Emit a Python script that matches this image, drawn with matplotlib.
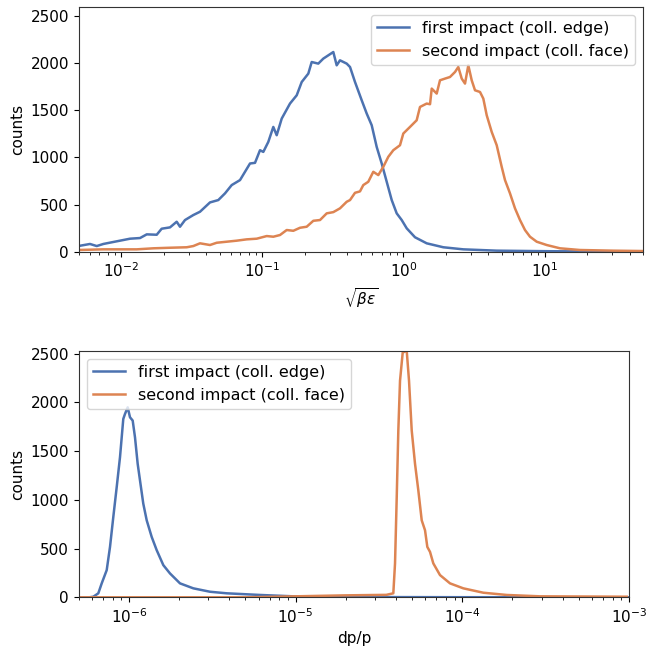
import matplotlib
matplotlib.use("Agg")
import matplotlib.pyplot as plt

# ---------------- data ----------------
labels = ["first impact (coll. edge)", "second impact (coll. face)"]
colors = ["#4C72B0", "#DD8452"]

# top panel: sqrt(beta*eps)
top_first_x = [0.00497, 0.00601, 0.00671, 0.00747, 0.00879, 0.00981, 0.01155, 0.0136,
               0.01517, 0.01785, 0.01936, 0.02217, 0.02473, 0.0261, 0.02832, 0.03243,
               0.03617, 0.04257, 0.04875, 0.05439, 0.06067, 0.06947, 0.08177, 0.08872,
               0.09627, 0.1016, 0.1102, 0.1196, 0.1264, 0.1372, 0.157, 0.1752, 0.1901,
               0.2117, 0.2237, 0.2491, 0.2703, 0.3183, 0.3363, 0.3549, 0.396, 0.418,
               0.4534, 0.5058, 0.5488, 0.5954, 0.6459, 0.701, 0.7606, 0.8252, 0.8951,
               0.9714, 1.054, 1.207, 1.46, 1.915, 2.654, 4.575, 10.9, 24.7, 50.0]
top_first_y = [60, 82, 60, 82, 103, 117, 138, 145, 184, 180, 244, 258, 318, 265, 336, 389,
               424, 523, 548, 619, 707, 760, 936, 943, 1077, 1059, 1165, 1324, 1236, 1413,
               1572, 1660, 1801, 1890, 2013, 1996, 2049, 2119, 1978, 2031, 1996, 1960,
               1801, 1607, 1466, 1342, 1112, 936, 742, 548, 407, 336, 248, 153, 89, 47,
               25, 11, 5, 2, 1]

top_second_x = [0.00497, 0.00747, 0.01288, 0.01689, 0.02217, 0.02911, 0.03243, 0.03617,
                0.04257, 0.0475, 0.05592, 0.06582, 0.07747, 0.09122, 0.1074, 0.1196,
                0.1334, 0.1488, 0.1658, 0.1849, 0.2062, 0.2297, 0.2562, 0.2858, 0.3183,
                0.3549, 0.396, 0.418, 0.4534, 0.4918, 0.5191, 0.563, 0.6111, 0.6632,
                0.7194, 0.7805, 0.8469, 0.9447, 0.997, 1.112, 1.24, 1.309, 1.46, 1.542,
                1.585, 1.719, 1.814, 1.968, 2.135, 2.317, 2.445, 2.585, 2.728, 2.879,
                3.043, 3.211, 3.484, 3.677, 3.887, 4.217, 4.575, 4.963, 5.238, 5.683,
                6.166, 6.69, 7.258, 7.875, 8.787, 10.34, 12.85, 17.8, 30.5, 50.0]
top_second_y = [18, 25, 25, 36, 42, 47, 60, 89, 71, 95, 106, 117, 131, 138, 166, 159, 177,
                230, 222, 254, 265, 328, 336, 407, 420, 460, 530, 548, 625, 640, 707, 742,
                848, 813, 901, 1007, 1077, 1130, 1254, 1324, 1395, 1536, 1572, 1565, 1731,
                1678, 1819, 1837, 1854, 1907, 1960, 1837, 1784, 1978, 1819, 1713, 1695,
                1625, 1448, 1271, 1130, 901, 760, 619, 460, 336, 230, 159, 106, 71, 36,
                18, 11, 7]

# bottom panel: dp/p
bot_first_x = [5.0e-7, 5.8e-7, 6.117e-7, 6.555e-7, 6.871e-7, 7.362e-7, 7.705e-7, 8.064e-7,
               8.452e-7, 8.846e-7, 9.256e-7, 9.477e-7, 9.838e-7, 1.0155e-6, 1.054e-6,
               1.088e-6, 1.129e-6, 1.166e-6, 1.22e-6, 1.279e-6, 1.37e-6, 1.468e-6,
               1.609e-6, 1.764e-6, 2.026e-6, 2.435e-6, 3.067e-6, 3.861e-6, 6.117e-6,
               9.689e-6, 1.933e-5, 4.0e-5, 1.0e-4, 1.0e-3]
bot_first_y = [0, 0, 6, 41, 143, 279, 517, 824, 1131, 1438, 1830, 1881, 1949, 1847, 1813,
               1642, 1370, 1199, 961, 790, 620, 484, 330, 245, 143, 92, 57, 41, 24, 10, 6,
               2, 1, 0]

bot_second_x = [5.0e-7, 5.0e-6, 1.0e-5, 2.0e-5, 3.5e-5, 3.857e-5, 3.949e-5, 4.043e-5,
                4.133e-5, 4.231e-5, 4.391e-5, 4.641e-5, 4.791e-5, 4.973e-5, 5.205e-5,
                5.448e-5, 5.709e-5, 5.976e-5, 6.169e-5, 6.403e-5, 6.701e-5, 7.35e-5,
                8.439e-5, 1.014e-4, 1.337e-4, 1.847e-4, 2.925e-4, 9.69e-4]
bot_second_y = [0, 0, 10, 20, 25, 41, 348, 1029, 1711, 2222, 2511, 2529, 2222, 1711, 1370,
                1097, 790, 688, 517, 466, 348, 228, 143, 92, 47, 24, 10, 6]

# ---------------- figure ----------------
plt.rcParams["font.family"] = ["DejaVu Sans"]
plt.rcParams["font.size"] = 11
plt.rcParams["axes.edgecolor"] = "0.2"

W, H = 647, 646
DPI = 100
fig = plt.figure(figsize=(W / DPI, H / DPI), dpi=DPI)

ax1 = fig.add_axes([78.7 / W, 1 - 251.7 / H, (643.3 - 78.7) / W, (251.7 - 6.7) / H])
ax2 = fig.add_axes([78.7 / W, 1 - 597.3 / H, (629.0 - 78.7) / W, (597.3 - 350.7) / H])

lw = 1.8
ax1.plot(top_first_x, top_first_y, color=colors[0], lw=lw, label=labels[0])
ax1.plot(top_second_x, top_second_y, color=colors[1], lw=lw, label=labels[1])
ax1.set_xscale("log")
ax1.set_xlim(0.005, 50)
ax1.set_ylim(0, 2600)
ax1.set_yticks([0, 500, 1000, 1500, 2000, 2500])
ax1.set_xlabel(r"$\sqrt{\beta\varepsilon}$")
ax1.set_ylabel("counts")
ax1.legend(loc="upper right", fontsize=11.5)

ax2.plot(bot_first_x, bot_first_y, color=colors[0], lw=lw, label=labels[0])
ax2.plot(bot_second_x, bot_second_y, color=colors[1], lw=lw, label=labels[1])
ax2.set_xscale("log")
ax2.set_xlim(5e-7, 1e-3)
ax2.set_ylim(0, 2530)
ax2.set_yticks([0, 500, 1000, 1500, 2000, 2500])
ax2.set_xlabel("dp/p")
ax2.set_ylabel("counts")
ax2.legend(loc="upper left", fontsize=11.5)

fig.savefig("out.png", dpi=DPI)
